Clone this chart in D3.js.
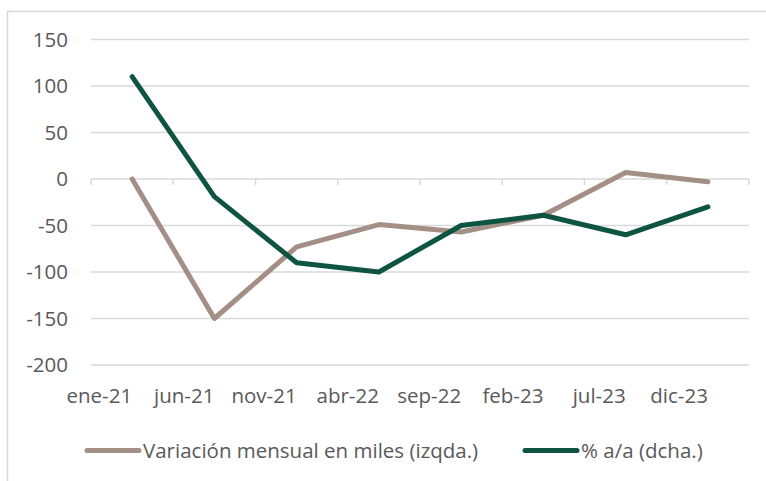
<!DOCTYPE html>
<meta charset="utf-8">
<style>
  body { margin: 0; background: #fff; }
  svg text { font-family: "Open Sans", sans-serif; fill: #595959; }
</style>
<svg id="chart" width="766" height="481"></svg>
<script src="https://d3js.org/d3.v7.min.js"></script>
<script>
var categories = ['ene-21', 'jun-21', 'nov-21', 'abr-22', 'sep-22', 'feb-23', 'jul-23', 'dic-23'],
    variacion = [0, -150, -73, -49, -57, -39, 7, -3],
    interanual = [110, -19, -90, -100, -50, -39, -60, -30],
    yTicks = [150, 100, 50, 0, -50, -100, -150, -200],
    seriesNames = ['Variación mensual en miles (izqda.)', '% a/a (dcha.)']

var brown = '#a38f85',
    green = '#0e5443',
    grid = '#d9d9d9',
    font = 20.5,
    margin = {top: 39.5, right: 17, bottom: 116, left: 91}

var svg = d3.select('#chart'),
    width = 766 - margin.left - margin.right,
    height = 481 - margin.top - margin.bottom

// outer chart frame (runs past the right and bottom edges)
svg.append('rect')
  .attr('x', 7.5).attr('y', 11.5)
  .attr('width', 900).attr('height', 600)
  .attr('fill', 'none')
  .attr('stroke', grid)
  .attr('stroke-width', 1.5)

var g = svg.append('g')
  .attr('transform', `translate(${margin.left}, ${margin.top})`)

var x = d3.scaleBand().domain(categories).range([0, width])
var y = d3.scaleLinear().domain([-200, 150]).range([height, 0])
var cx = (d) => x(d) + x.bandwidth() / 2

// gridlines
g.selectAll('.grid')
  .data(yTicks)
  .enter()
  .append('line')
  .attr('x1', 0).attr('x2', width)
  .attr('y1', (d) => y(d)).attr('y2', (d) => y(d))
  .attr('stroke', grid)
  .attr('stroke-width', 1.5)

// y labels
g.selectAll('.ylab')
  .data(yTicks)
  .enter()
  .append('text')
  .attr('x', -23)
  .attr('y', (d) => y(d))
  .attr('dy', '0.35em')
  .attr('text-anchor', 'end')
  .style('font-size', font + 'px')
  .text((d) => d)

// category ticks on the zero line
var edges = categories.map((d) => x(d)).concat([width])
g.selectAll('.tick')
  .data(edges)
  .enter()
  .append('line')
  .attr('x1', (d) => d).attr('x2', (d) => d)
  .attr('y1', y(0)).attr('y2', y(0) + 6)
  .attr('stroke', grid)
  .attr('stroke-width', 1.5)

// category labels, right-aligned on the point
g.selectAll('.xlab')
  .data(categories)
  .enter()
  .append('text')
  .attr('x', (d) => cx(d))
  .attr('y', height + 38)
  .attr('text-anchor', 'end')
  .style('font-size', font + 'px')
  .text((d) => d)

var line = (vals) => d3.line()
  .x((d, i) => cx(categories[i]))
  .y((d) => y(d))(vals)

g.append('path')
  .attr('d', line(variacion))
  .attr('fill', 'none')
  .attr('stroke', brown)
  .attr('stroke-width', 5)
  .attr('stroke-linecap', 'round')
  .attr('stroke-linejoin', 'round')

g.append('path')
  .attr('d', line(interanual))
  .attr('fill', 'none')
  .attr('stroke', green)
  .attr('stroke-width', 5)
  .attr('stroke-linecap', 'round')
  .attr('stroke-linejoin', 'round')

// legend
var legend = svg.append('g')
var items = [
  {name: seriesNames[0], color: brown, x: 87},
  {name: seriesNames[1], color: green, x: 525}
]
var item = legend.selectAll('g')
  .data(items)
  .enter()
  .append('g')
  .attr('transform', (d) => `translate(${d.x}, 450.5)`)

item.append('line')
  .attr('x1', 0).attr('x2', 52)
  .attr('stroke', (d) => d.color)
  .attr('stroke-width', 5)
  .attr('stroke-linecap', 'round')

item.append('text')
  .attr('x', 56)
  .attr('dy', '0.35em')
  .style('font-size', font + 'px')
  .text((d) => d.name)
</script>
